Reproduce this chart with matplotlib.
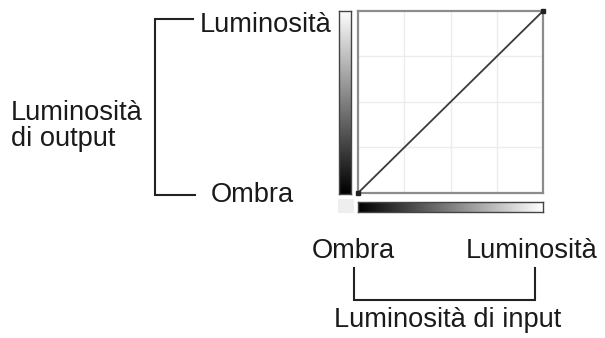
import numpy as np
import matplotlib
matplotlib.use("Agg")
import matplotlib.pyplot as plt

# ---- data ----
input_levels = [0, 255]
output_levels = [0, 255]
grid_ticks = [64, 128, 192]
gradient_steps = np.arange(256)

label_highlight = "Luminosità"
label_shadow = "Ombra"
label_output = ["Luminosità", "di output"]
label_input = "Luminosità di input"

W, H = 605, 338
plt.rcParams['font.family'] = ['Liberation Sans', 'DejaVu Sans']
FS = 19.6
TC = '#1a1a1a'

fig = plt.figure(figsize=(W / 100, H / 100), dpi=100)
fig.patch.set_facecolor('white')


def px_axes(x0, y0, x1, y1):
    return fig.add_axes([x0 / W, 1 - y1 / H, (x1 - x0) / W, (y1 - y0) / H])


# overlay for annotations (pixel coordinates)
ov = fig.add_axes([0, 0, 1, 1])
ov.set_xlim(0, W)
ov.set_ylim(H, 0)
ov.axis('off')

# ---- main curve axes ----
ax = px_axes(358, 11, 543, 193)
ax.set_xlim(0, 255)
ax.set_ylim(0, 255)
ax.set_xticks(grid_ticks)
ax.set_yticks(grid_ticks)
ax.tick_params(length=0, labelbottom=False, labelleft=False)
ax.grid(True, color='#ececec', linewidth=1.0)
for s in ax.spines.values():
    s.set_color('#8c8c8c')
    s.set_linewidth(1.6)
ax.plot(input_levels, output_levels, color='#3a3a3a', linewidth=1.3,
        marker='s', markersize=3.5, markerfacecolor='#222222',
        markeredgecolor='#222222', clip_on=False, zorder=5)

# ---- vertical gradient (output) ----
axv = px_axes(339, 11, 351, 194)
axv.imshow(gradient_steps[::-1].reshape(-1, 1), cmap='gray', aspect='auto',
           vmin=0, vmax=255, interpolation='bilinear')
axv.set_xticks([])
axv.set_yticks([])
for s in axv.spines.values():
    s.set_color('#444444')
    s.set_linewidth(1.0)

# ---- horizontal gradient (input) ----
axh = px_axes(358, 202, 543, 212)
axh.imshow(gradient_steps.reshape(1, -1), cmap='gray', aspect='auto',
           vmin=0, vmax=255, interpolation='bilinear')
axh.set_xticks([])
axh.set_yticks([])
for s in axh.spines.values():
    s.set_color('#444444')
    s.set_linewidth(1.0)

# ---- corner square ----
axc = px_axes(338, 199, 354, 213)
axc.set_facecolor('#eeeeee')
axc.set_xticks([])
axc.set_yticks([])
for s in axc.spines.values():
    s.set_visible(False)

# ---- left bracket and labels ----
LW = 1.5
LC = '#222222'
ov.plot([193, 155, 155, 195], [19, 19, 195, 195], color=LC, linewidth=LW,
        solid_joinstyle='miter')
ov.text(200, 32, label_highlight, fontsize=FS, color=TC, ha='left', va='baseline')
ov.text(211, 202, label_shadow, fontsize=FS, color=TC, ha='left', va='baseline')
ov.text(11, 120, label_output[0], fontsize=FS, color=TC, ha='left', va='baseline')
ov.text(11, 146, label_output[1], fontsize=FS, color=TC, ha='left', va='baseline')

# ---- bottom bracket and labels ----
ov.plot([354, 354, 535, 535], [268, 300, 300, 268], color=LC, linewidth=LW,
        solid_joinstyle='miter')
ov.text(312, 258, label_shadow, fontsize=FS, color=TC, ha='left', va='baseline')
ov.text(597, 258, label_highlight, fontsize=FS, color=TC, ha='right', va='baseline')
ov.text(448, 327, label_input, fontsize=FS, color=TC, ha='center', va='baseline')

fig.savefig('out.png', dpi=100, facecolor='white')
